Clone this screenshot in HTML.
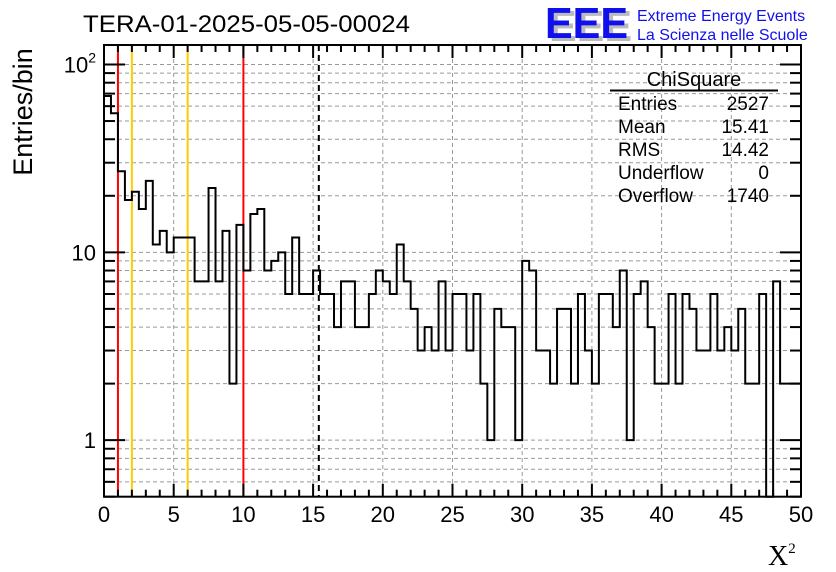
<!DOCTYPE html>
<html><head><meta charset="utf-8"><style>
body{margin:0;background:#fff;}
svg{display:block;font-family:"Liberation Sans",sans-serif;}
</style></head><body>
<svg id="chart" width="836" height="572" viewBox="0 0 836 572" xmlns="http://www.w3.org/2000/svg">
<rect x="0" y="0" width="836" height="572" fill="#fff"/>
<g id="grid"></g>
<g id="vlines"></g>
<path id="hist" fill="none" stroke="#000" stroke-width="2"/>
<g id="axes"></g>
<text x="83" y="32" font-size="24" textLength="327" lengthAdjust="spacingAndGlyphs">TERA-01-2025-05-05-00024</text>
<text x="0" y="0" font-size="27" transform="translate(32,112) rotate(-90)" text-anchor="middle">Entries/bin</text>
<text x="768" y="565" font-size="28" font-family="Liberation Serif,serif">X<tspan font-size="15" dy="-12">2</tspan></text>
<g>
<text x="549" y="41" font-size="44" font-weight="bold" fill="#bbbbbb" textLength="83" lengthAdjust="spacingAndGlyphs">EEE</text>
<text x="545" y="38" font-size="44" font-weight="bold" fill="#1010ee" textLength="83" lengthAdjust="spacingAndGlyphs">EEE</text>
<text x="637" y="21" font-size="16" fill="#1010ee">Extreme Energy Events</text>
<text x="637" y="40" font-size="16" fill="#1010ee">La Scienza nelle Scuole</text>
</g>
<g font-size="19">
<text x="694" y="86" text-anchor="middle" font-size="20">ChiSquare</text>
<line x1="610" y1="90.5" x2="778" y2="90.5" stroke="#000" stroke-width="2"/>
<text x="618" y="110">Entries</text><text x="769" y="110" text-anchor="end">2527</text>
<text x="618" y="133">Mean</text><text x="769" y="133" text-anchor="end">15.41</text>
<text x="618" y="156">RMS</text><text x="769" y="156" text-anchor="end">14.42</text>
<text x="618" y="179">Underflow</text><text x="769" y="179" text-anchor="end">0</text>
<text x="618" y="202">Overflow</text><text x="769" y="202" text-anchor="end">1740</text>
</g>
</svg>
<script>
const binWidth = 0.5;
const counts = [68,55,27,19,21,17,24,11,13,10,12,12,12,7,7,22,7,13,2,14,8,16,17,8,9,10,6,12,6,6,
8,6,6,4,7,7,4,4,6,8,7,6,11,7,5,3,4,3,7,3,6,6,3,6,2,1,5,4,4,1,9,8,3,3,2,
5,5,2,6,3,2,6,6,4,8,1,6,7,4,2,2,6,2,6,5,3,3,6,3,4,3,5,2,2,6,0,7,2,2,2];
const xTicks = [0,5,10,15,20,25,30,35,40,45,50];
const yMajor = [1,10,100];
const refLines = [{x:1,c:"#ff0000"},{x:2,c:"#ffcc00"},{x:6,c:"#ffcc00"},{x:10,c:"#ff0000"}];
const meanValue = 15.41;

const L=104,R=801,T=45,B=496.7;
const xmin=0,xmax=50,ymin=0.5,ymax=127;
const X=v=>L+(v-xmin)/(xmax-xmin)*(R-L);
const Y=v=>B-(Math.log10(v)-Math.log10(ymin))/(Math.log10(ymax)-Math.log10(ymin))*(B-T);
const NS="http://www.w3.org/2000/svg";
function mk(tag,attrs,parent){const e=document.createElementNS(NS,tag);for(const k in attrs)e.setAttribute(k,attrs[k]);parent.appendChild(e);return e;}
const grid=document.getElementById('grid'),axes=document.getElementById('axes'),vl=document.getElementById('vlines');
const yMinor=[];
for(let d=0.1;d<1000;d*=10){for(let m=1;m<10;m++){const v=m*d;if(v>=ymin&&v<=ymax)yMinor.push(+v.toPrecision(3));}}
yMinor.forEach(v=>{
  const g=mk('line',{x1:L,x2:R,y1:Y(v),y2:Y(v),stroke:'#999',"stroke-width":1,"stroke-dasharray":"4,3"},grid);
  
  
});
xTicks.slice(1,-1).forEach(v=>{
  const g=mk('line',{x1:X(v),x2:X(v),y1:T,y2:B,stroke:'#999',"stroke-width":1,"stroke-dasharray":"4,3"},grid);
  
  
});
refLines.forEach(r=>{
  const l=mk('line',{x1:X(r.x),x2:X(r.x),y1:T,y2:B,stroke:r.c,"stroke-width":2},vl);
  
  
});
const ml=mk('line',{x1:X(meanValue),x2:X(meanValue),y1:T,y2:B,stroke:'#000',"stroke-width":2,"stroke-dasharray":"6,4"},vl);


const yv=c=>c>0?Y(c):B;
let d=`M${X(0)},${yv(counts[0])}`;
counts.forEach((c,i)=>{
  const x0=X(i*binWidth),x1=X((i+1)*binWidth);
  d+=` L${x0},${yv(c)} L${x1},${yv(c)}`;
});
document.getElementById('hist').setAttribute('d',d);
const fr=mk('rect',{x:L,y:T,width:R-L,height:B-T,fill:'none',stroke:'#000',"stroke-width":2},axes);


for(let v=xmin;v<=xmax;v+=1){
  const major=v%5===0,len=major?13:7;
  const t1=mk('line',{x1:X(v),x2:X(v),y1:B,y2:B-len,stroke:'#000',"stroke-width":2},axes);
  
  
  const t2=mk('line',{x1:X(v),x2:X(v),y1:T,y2:T+len,stroke:'#000',"stroke-width":2},axes);
  
  
}
xTicks.forEach(v=>{
  const t=mk('text',{x:X(v),y:522,"font-size":22,"text-anchor":"middle"},axes);
  t.textContent=v;
  
  
});
yMinor.forEach(v=>{
  const major=yMajor.includes(v),len=major?21:11;
  const t1=mk('line',{x1:L,x2:L+len,y1:Y(v),y2:Y(v),stroke:'#000',"stroke-width":2},axes);
  
  
  const t2=mk('line',{x1:R,x2:R-len,y1:Y(v),y2:Y(v),stroke:'#000',"stroke-width":2},axes);
  
  
});
yMajor.forEach(v=>{
  const t=mk('text',{x:96,y:Y(v)+8,"font-size":22,"text-anchor":"end"},axes);
  if(v===100){t.innerHTML='10<tspan font-size="14" dy="-10">2</tspan>';}else{t.textContent=v;}
  
  
});
</script>
</body></html>
